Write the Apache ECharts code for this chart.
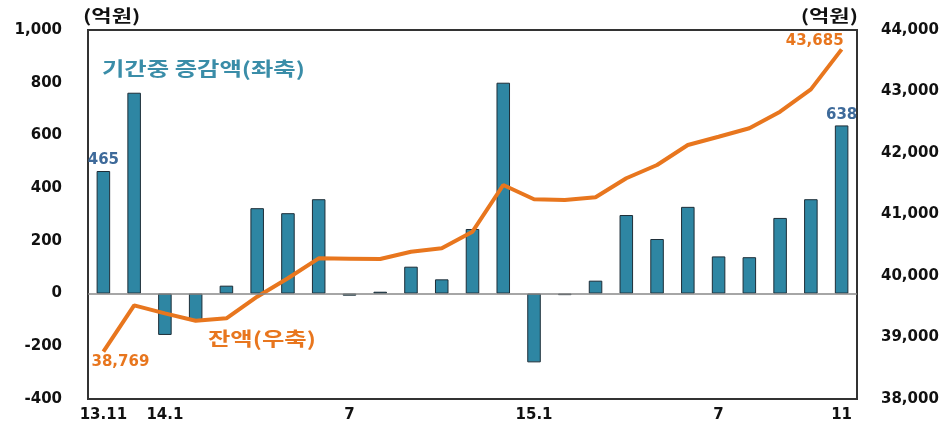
<!DOCTYPE html>
<html><head><meta charset="utf-8">
<script src="https://cdn.jsdelivr.net/npm/echarts@6/dist/echarts.min.js"></script>
<style>html,body{margin:0;padding:0;background:#fff}#c{width:948px;height:425px}</style>
</head><body><div id="c"></div>
<script>
const categories = ['13.11','13.12','14.1','14.2','14.3','14.4','14.5','14.6','14.7','14.8','14.9','14.10','14.11','14.12','15.1','15.2','15.3','15.4','15.5','15.6','15.7','15.8','15.9','15.10','15.11'];
const tickLabels = {0:'13.11',2:'14.1',8:'7',14:'15.1',20:'7',24:'11'};
const changeValues = [465,762,-157,-103,30,324,305,358,-8,7,102,54,245,800,-261,-6,49,298,207,329,141,138,287,358,638];
const balanceValues = [38769,39523,39393,39273,39312,39663,39963,40287,40282,40276,40395,40450,40720,41480,41247,41236,41280,41589,41805,42130,42265,42402,42672,43035,43685];
const labeledBars = [0,24];
const labeledLine = [0,24];

const BAR = '#2E86A3', LINE = '#E8761E', FONT = 'DejaVu Sans';
const chart = echarts.init(document.getElementById('c'));
const fmt = v => v.toLocaleString('en-US');

const barData = changeValues.map((v,i) => labeledBars.includes(i) ? {
  value: v,
  label: {show:true, position:'top', distance:3, formatter: p => fmt(p.value), color:'#3E6A9A', fontFamily:FONT, fontWeight:'bold', fontSize:15}
} : v);
const lineData = balanceValues.map((v,i) => {
  if (!labeledLine.includes(i)) return v;
  const first = i === 0;
  return {
    value: v,
    label: {show:true, position: first ? 'bottom' : 'left', distance: first ? 5 : 0, offset: first ? [17,-2] : [2,-8],
      formatter: p => fmt(p.value), color:LINE, fontFamily:FONT, fontWeight:'bold', fontSize:15}
  };
});

chart.setOption({
  animation:false,
  grid:{left:88, right:91, top:30, bottom:26, show:true, borderColor:'#333', borderWidth:2, backgroundColor:'transparent'},
  xAxis:{type:'category', data:categories,
    axisLine:{show:false}, axisTick:{show:false},
    axisLabel:{interval:0, margin:9, color:'#111', fontFamily:FONT, fontWeight:'bold', fontSize:15,
      formatter:(v,i)=> tickLabels[i] !== undefined ? tickLabels[i] : ''}},
  yAxis:[
    {type:'value', min:-400, max:1000, interval:200, position:'left',
     axisLine:{show:false}, axisTick:{show:false}, splitLine:{show:false},
     axisLabel:{margin:26, color:'#111', fontFamily:FONT, fontWeight:'bold', fontSize:15, formatter:v=>fmt(v)}},
    {type:'value', min:38000, max:44000, interval:1000, position:'right',
     axisLine:{show:false}, axisTick:{show:false}, splitLine:{show:false},
     axisLabel:{margin:24, color:'#111', fontFamily:FONT, fontWeight:'bold', fontSize:15, formatter:v=>fmt(v)}}
  ],
  series:[
    {type:'bar', yAxisIndex:0, data:barData, barWidth:'44%',
     itemStyle:{color:BAR, borderColor:'#1E2E38', borderWidth:1},
     markLine:{silent:true, symbol:'none', label:{show:false},
       lineStyle:{color:'#888', width:1.5, type:'solid'}, data:[{yAxis:0}]},
     z:2},
    {type:'line', yAxisIndex:1, data:lineData, showSymbol:true, symbol:'circle', symbolSize:0,
     lineStyle:{color:LINE, width:4}, itemStyle:{color:LINE}, z:3}
  ],
  graphic:[
    {type:'text', x:83, y:7, scaleX:1.3, style:{text:'(억원)', fill:'#111', font:'bold 17px "Noto Sans CJK KR"'}},
    {type:'text', x:858, y:7, scaleX:1.3, style:{text:'(억원)', fill:'#111', align:'right', font:'bold 17px "Noto Sans CJK KR"'}},
    {type:'text', x:102, y:59, scaleX:1.28, style:{text:'기간중 증감액(좌축)', fill:'#3A8DA8', font:'bold 19px "Noto Sans CJK KR"'}},
    {type:'text', x:208, y:329, scaleX:1.28, style:{text:'잔액(우축)', fill:LINE, font:'bold 19px "Noto Sans CJK KR"'}}
  ]
});
</script></body></html>
